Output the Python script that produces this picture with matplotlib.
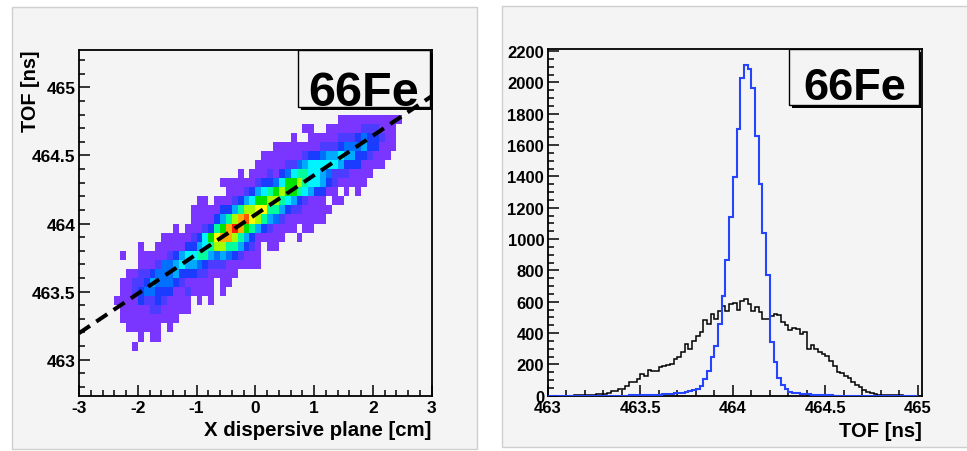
import numpy as np
import matplotlib
matplotlib.use("Agg")
import matplotlib.pyplot as plt
from matplotlib.colors import ListedColormap, BoundaryNorm
from matplotlib.patches import Rectangle
from matplotlib.ticker import MultipleLocator

plt.rcParams['font.family'] = ['Liberation Sans', 'DejaVu Sans']
plt.rcParams['font.weight'] = 'bold'
plt.rcParams['lines.scale_dashes'] = False

# ---------------- data ----------------
# 2D histogram TOF vs X: colour level per cell ('.' = empty, 1..d = palette index)
x_first_edge = -2.4      # cm, left edge of the first column
x_bin = 0.1
y_first_edge = 463.0 + 1.0 / 15   # ns, bottom edge of the first row
y_bin = 1.0 / 15
E = ".........."
tof_x_rows = [  # bottom row first
    "...1......" + E * 4,
    "....1.11.." + E * 4,
    "..111111.1" + E * 4,
    ".111111111" + "1........." + E * 3,
    ".111112211" + "111......." + E * 3,
    "1111322321" + "111.1.1..." + E * 3,
    ".112344333" + "1121111.1." + E * 3,
    ".112235444" + "3211111.11" + E * 3,
    "..11223444" + "5333221111" + "1........." + E * 2,
    "....111244" + "5655432221" + "11111....." + E * 2,
    ".1..111112" + "3566775454" + "32111....." + E * 2,
    "....1..111" + "1133567997" + "75321.11.." + E * 2,
    "........11" + "1112368abb" + "975311111." + ".1........" + E,
    E + "1.1112378b" + "db87532111" + "1.11......" + E,
    E + "...1111357" + "9bca975421" + "111111...." + E,
    E + "...1111133" + "5799aa7753" + "2211111..." + E,
    E + "....11.111" + "2356889976" + "532111.11." + E,
    E + ".........1" + "1123567898" + "87653311.1" + ".1........",
    E + "........11" + "1111233468" + "8976653211" + "111.......",
    E + E + ".1.1112134" + "6776654222" + "1111......",
    E + E + "....111112" + "2456666653" + "331111....",
    E + E + ".....11111" + "1123345565" + "5332111...",
    E + E + ".......111" + "1111122234" + "44533111..",
    E + E + E + "1..1111122" + "23433211..",
    E + E + E + "..11..1111" + "11222111..",
    E + E + E + "........11" + "111111111.",
]
palette = ["#7a36ff", "#4b3cff", "#1a3cff", "#0070ff", "#00aaff", "#00f4ff",
           "#00ff9c", "#00e400", "#a6ff00", "#ffff00", "#ffab00", "#ff5a00", "#ff1a00"]
level_codes = "123456789abcd"

# fitted correlation line  TOF = a + b*X
line_x = [-3.0, 3.0]
line_a, line_b = 464.065, 0.29

# 1D TOF histograms, 100 bins 463..465
tof_lo, tof_hi, tof_nbins = 463.0, 465.0, 100
tof_raw = [0, 0, 0, 0, 0, 1, 1, 2, 2, 3, 3, 4, 5, 8, 8, 11, 17, 32, 30, 43,
           43, 64, 89, 89, 106, 138, 128, 166, 160, 155, 181, 191, 195, 202, 234, 245, 277, 330, 298, 351,
           383, 404, 485, 458, 521, 489, 543, 575, 543, 585, 592, 549, 607, 617, 585, 543, 564, 532, 489, 489,
           511, 521, 515, 472, 451, 419, 430, 426, 394, 404, 298, 323, 298, 277, 266, 251, 223, 191, 153, 145,
           128, 111, 89, 68, 53, 38, 26, 17, 11, 6, 6, 4, 4, 2, 2, 2, 1, 0, 0, 0]
tof_corr = [0, 0, 0, 0, 0, 0, 0, 0, 0, 0, 0, 0, 0, 0, 0, 0, 0, 0, 0, 0,
            1, 1, 2, 2, 2, 4, 5, 6, 6, 6, 7, 8, 12, 14, 16, 17, 20, 24, 30, 38,
            45, 62, 106, 160, 245, 315, 458, 634, 868, 1143, 1394, 1702, 2026, 2110, 2085, 1964, 1655, 1349, 1036, 772,
            340, 215, 110, 70, 43, 24, 18, 16, 14, 11, 9, 7, 5, 4, 3, 2, 2, 1, 1, 1,
            0, 0, 0, 0, 0, 0, 0, 0, 0, 0, 0, 0, 0, 0, 0, 0, 0, 0, 0, 0]

label_text = "66Fe"

# ---------------- figure ----------------
W, H = 967, 452
fig = plt.figure(figsize=(W / 100, H / 100), dpi=100)
fig.patch.set_facecolor("white")
BG = "#f4f4f4"


def fx(x):
    return x / W


def fy(y):
    return 1 - y / H


def rect_fig(x0, y0, x1, y1):
    return (fx(x0), fy(y1)), fx(x1) - fx(x0), fy(y0) - fy(y1)


# pads (drawn beneath the axes)
for (a, b, c, d) in [(12, 8, 477, 450), (502, 7, 975, 448)]:
    xy, w, h = rect_fig(a, b, c, d)
    fig.patches.append(Rectangle(xy, w, h, transform=fig.transFigure,
                                 facecolor=BG, edgecolor="#cfcfcf", lw=1.0, zorder=-5))


def style_axes(ax, xmaj, xmin, ymaj, ymin, fs):
    ax.set_facecolor(BG)
    for s in ax.spines.values():
        s.set_linewidth(1.3)
        s.set_color("black")
        s.set_zorder(3)
    ax.xaxis.set_major_locator(MultipleLocator(xmaj))
    ax.xaxis.set_minor_locator(MultipleLocator(xmin))
    ax.yaxis.set_major_locator(MultipleLocator(ymaj))
    ax.yaxis.set_minor_locator(MultipleLocator(ymin))
    ax.tick_params(which="both", direction="in", top=False, right=False,
                   width=1.1, labelsize=fs, colors="black")
    ax.tick_params(which="major", length=8)
    ax.tick_params(which="minor", length=4)
    ax.tick_params(axis="y", pad=2.5)
    ax.tick_params(axis="x", pad=3)
    for lab in ax.get_xticklabels() + ax.get_yticklabels():
        lab.set_fontweight("bold")


def fmt(v, pos):
    s = ("%.1f" % v)
    if s.endswith(".0"):
        s = s[:-2]
    return s


def label_box(ax, x0, y0, x1, y1, fs, tx, base):
    xy, w, h = rect_fig(x0 + 2.5, y0 + 2.5, x1 + 2.5, y1 + 2.5)
    ax.add_patch(Rectangle(xy, w, h, transform=fig.transFigure, clip_on=False,
                           facecolor="black", edgecolor="black", lw=0, zorder=4))
    xy, w, h = rect_fig(x0, y0, x1, y1)
    ax.add_patch(Rectangle(xy, w, h, transform=fig.transFigure, clip_on=False,
                           facecolor=BG, edgecolor="black", lw=1.0, zorder=5))
    ax.text(fx(tx), fy(base), label_text, transform=fig.transFigure,
            ha="center", va="baseline", fontsize=fs, fontweight="bold", zorder=6)


# ---------- left panel ----------
axL = fig.add_axes([fx(79), fy(396.7), fx(432.3) - fx(79), fy(50.7) - fy(396.7)])
nrows = len(tof_x_rows)
ncols = len(tof_x_rows[0])
Z = np.full((nrows, ncols), np.nan)
for j, row in enumerate(tof_x_rows):
    for i, ch in enumerate(row):
        if ch != ".":
            Z[j, i] = level_codes.index(ch) + 1
xe = x_first_edge + x_bin * np.arange(ncols + 1)
ye = y_first_edge + y_bin * np.arange(nrows + 1)
cmap = ListedColormap(palette)
norm = BoundaryNorm(np.arange(0.5, len(palette) + 1.5), cmap.N)
axL.pcolormesh(xe, ye, np.ma.masked_invalid(Z), cmap=cmap, norm=norm,
               shading="flat", edgecolors="none", antialiased=False, zorder=1)
label_box(axL, 298, 51, 430, 108, 35, 364, 106)
lx = np.array(line_x)
axL.plot(lx, line_a + line_b * lx, color="black", lw=2.9, dashes=(9.5, 5.5),
         dash_capstyle="butt", zorder=7, clip_on=True)
axL.set_xlim(-3, 3.01)
axL.set_ylim(462.736, 465.276)
style_axes(axL, 1, 0.2, 0.5, 0.1, 12.5)
axL.yaxis.set_major_formatter(plt.FuncFormatter(fmt))
axL.xaxis.set_major_formatter(plt.FuncFormatter(fmt))

# ---------- right panel ----------
axR = fig.add_axes([fx(547.7), fy(396.7), fx(921.7) - fx(547.7), fy(50.2) - fy(396.7)])
edges = np.linspace(tof_lo, tof_hi, tof_nbins + 1)
axR.stairs(tof_raw, edges, color="black", lw=1.1, zorder=3)
axR.stairs(tof_corr, edges, color="#2444ff", lw=1.5, zorder=4)
label_box(axR, 789, 50, 918.5, 106, 32.5, 854.5, 100)
axR.set_xlim(463, 465.02)
axR.set_ylim(0, 2212)
style_axes(axR, 0.5, 0.1, 200, 50, 12)
axR.xaxis.set_major_formatter(plt.FuncFormatter(fmt))
axR.yaxis.set_major_formatter(plt.FuncFormatter(lambda v, p: "%d" % v))

# axis titles
fig.text(fx(30), fy(51), "TOF [ns]", rotation=90, ha="center", va="top",
         fontsize=14.3, fontweight="bold")
fig.text(fx(431.7), fy(431), "X dispersive plane [cm]", ha="right", va="center",
         fontsize=14.7, fontweight="bold")
fig.text(fx(921.7), fy(432), "TOF [ns]", ha="right", va="center",
         fontsize=14.6, fontweight="bold")

fig.savefig("out.png", dpi=100, facecolor="white")
